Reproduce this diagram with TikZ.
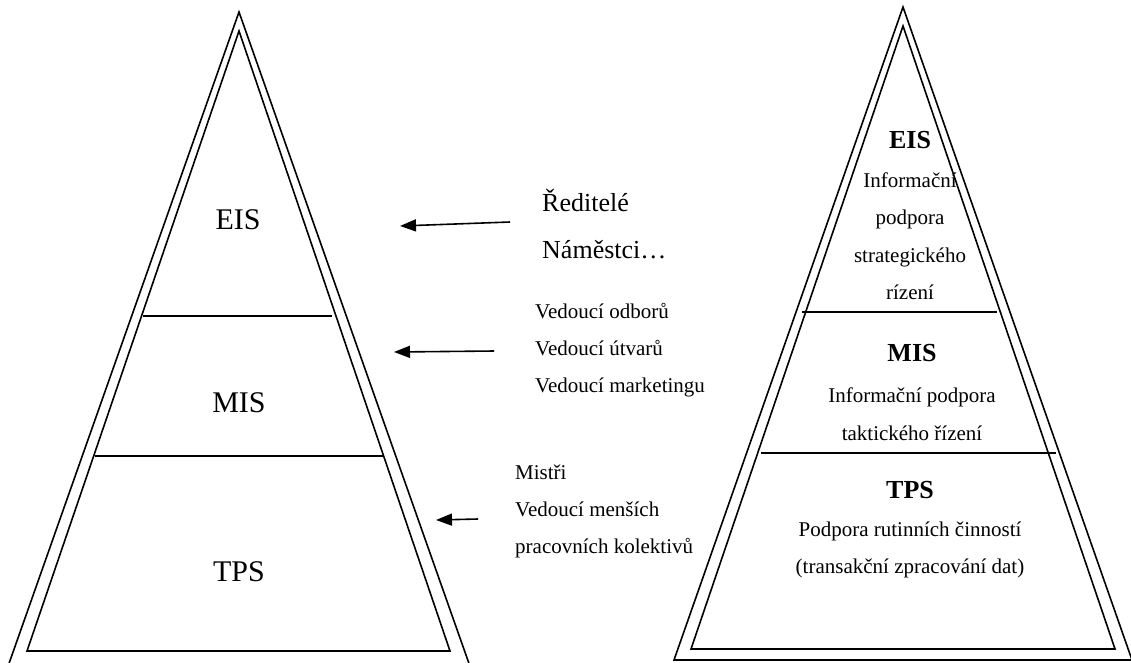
\documentclass[tikz,border=0pt]{standalone}
\usepackage{fontspec}
\setmainfont{Liberation Serif}
\usetikzlibrary{arrows.meta}

\begin{document}
\begin{tikzpicture}[x=1pt,y=-1pt,
    edge/.style={line width=1.6pt},
    divider/.style={line width=1.3pt},
    pointer/.style={line width=1.6pt,-{Triangle[length=16pt,width=12pt]}},
    level/.style={inner sep=0pt,font=\fontsize{30}{36}\selectfont},
    title/.style={inner sep=0pt,font=\bfseries\fontsize{26}{31}\selectfont},
    body/.style={inner sep=0pt,align=center,font=\fontsize{21}{37.5}\selectfont},
    who/.style={inner sep=0pt,anchor=west,align=left,font=\fontsize{21}{37}\selectfont}]
    \useasboundingbox (0,0) rectangle (1131,662);
    \clip (0,0) rectangle (1131,662);

    % Left pyramid
    \draw[edge] (6,672) -- (239,12) -- (472,672) -- cycle;
    \draw[edge] (27,651) -- (239,31) -- (450,651) -- cycle;
    \draw[divider] (143,316) -- (332,316);
    \draw[divider] (95,456) -- (384,456);

    \node[level] (eisl) at (238,220) {EIS};
    \node[level] (misl) at (239,403) {MIS};
    \node[level] (tpsl) at (239,572) {TPS};

    % Who uses it
    \node[who,font=\fontsize{26}{47}\selectfont] (top) at (542,224) {Ředitelé\\Náměstci…};
    \node[who] (middle) at (535,350) {Vedoucí odborů\\Vedoucí útvarů\\Vedoucí marketingu};
    \node[who] (bottom) at (515,511) {Mistři\\Vedoucí menších\\pracovních kolektivů};

    % Arrows
    \coordinate (toptail) at (510,222);
    \coordinate (toptip) at (400,226);
    \coordinate (midtail) at (494,351);
    \coordinate (midtip) at (394,352);
    \coordinate (bottail) at (478,519);
    \coordinate (bottip) at (436,520);
    \draw[pointer] (toptail) -- (toptip);
    \draw[pointer] (midtail) -- (midtip);
    \draw[pointer] (bottail) -- (bottip);

    % Right pyramid
    \draw[edge] (674,660) -- (903,7) -- (1132,660) -- cycle;
    \draw[edge] (691,649) -- (903,26) -- (1115,649) -- cycle;
    \draw[divider] (802,312) -- (997,312);
    \draw[divider] (761,453) -- (1056,453);

    \node[title] (eisr) at (910,140) {EIS};
    \node[body] (eisrtext) at (910,236) {Informační\\podpora\\strategického\\rízení};
    \node[title] (misr) at (912,353) {MIS};
    \node[body] (misrtext) at (912,414) {Informační podpora\\taktického řízení};
    \node[title] (tpsr) at (910,490) {TPS};
    \node[body] (tpsrtext) at (910,550) {Podpora rutinních činností\\(transakční zpracování dat)};

\end{tikzpicture}
\end{document}
